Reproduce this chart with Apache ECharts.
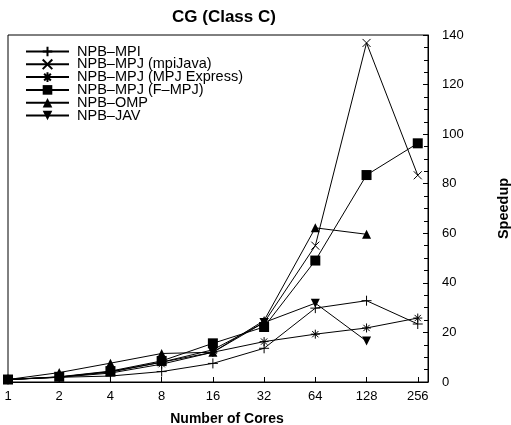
<!DOCTYPE html>
<html>
<head>
<meta charset="utf-8">
<script src="https://cdn.jsdelivr.net/npm/echarts@6/dist/echarts.min.js"></script>
<style>
  html, body { margin: 0; padding: 0; background: #fff; }
  #chart { width: 511px; height: 425px; }
</style>
</head>
<body>
<div id="chart"></div>
<script>
// cores on the x axis (drawn at equal spacing, log2 scale)
var cores = ['1', '2', '4', '8', '16', '32', '64', '128', '256'];
// speedup values
var npbMpi = [1, 1.9, 2.4, 4.2, 7.5, 13.6, 29.8, 32.8, 23.4];
var npbMpiJava = [1, 2.0, 4.2, 8.0, 13.0, 24.0, 55.0, 136.8, 83.4];
var npbMpjExpress = [1, 1.9, 3.6, 7.2, 12.0, 16.3, 19.3, 21.8, 25.8];
var npbFmpj = [1, 2.1, 4.4, 8.5, 15.6, 22.2, 49.0, 83.5, 96.3];
var npbOmp = [1, 3.8, 7.6, 11.5, 12.0, 24.8, 62.2, 59.6];
var npbJav = [1, 2.0, 4.0, 8.0, 12.0, 24.0, 31.8, 16.5];
var yTicks = [0, 20, 40, 60, 80, 100, 120, 140];

var FONT = 'Liberation Sans';

//gnuplot style point shapes
var PLUS = 'path://M0,5L10,5M5,0L5,10';
var CROSS = 'path://M0,0L10,10M10,0L0,10';
var STAR = 'path://M0,5L10,5M5,0L5,10M1.5,1.5L8.5,8.5M8.5,1.5L1.5,8.5';

function toPoints(arr) {
  var out = [];
  for (var i = 0; i < arr.length; i++) {
    out.push([i, arr[i]]);
  }
  return out;
}

function makeSeries(name, arr, symbol, size, stroked, rotate) {
  return {
    name: name,
    type: 'line',
    data: toPoints(arr),
    symbol: symbol,
    symbolSize: size,
    symbolRotate: rotate || 0,
    showAllSymbol: true,
    animation: false,
    lineStyle: { color: '#000', width: 1 },
    itemStyle: stroked
      ? { color: '#000', borderColor: '#000', borderWidth: 1 }
      : { color: '#000', borderWidth: 0 }
  };
}

var chart = echarts.init(document.getElementById('chart'), null, { renderer: 'canvas' });

var option = {
  backgroundColor: '#fff',
  animation: false,
  textStyle: { fontFamily: FONT, color: '#000' },
  title: {
    text: 'CG (Class C)',
    left: 167,
    top: 4,
    textStyle: { fontFamily: FONT, fontSize: 17, fontWeight: 'bold', color: '#000' }
  },
  legend: {
    orient: 'vertical',
    left: 25,
    top: 44,
    padding: 0,
    itemWidth: 43,
    itemHeight: 12,
    itemGap: -2.2,
    textStyle: { fontFamily: FONT, fontSize: 14.5, color: '#000', padding: [0, 0, 0, 3] },
    data: ['NPB\u2013MPI', 'NPB\u2013MPJ (mpiJava)', 'NPB\u2013MPJ (MPJ Express)',
           'NPB\u2013MPJ (F\u2013MPJ)', 'NPB\u2013OMP', 'NPB\u2013JAV']
  },
  grid: {
    left: 8,
    right: 83,
    top: 35,
    bottom: 43,
    show: true,
    borderColor: '#000',
    borderWidth: 1,
    containLabel: false,
    outerBoundsMode: 'none'
  },
  xAxis: {
    type: 'value',
    min: 0,
    max: 8.2,
    interval: 1,
    name: 'Number of Cores',
    nameLocation: 'middle',
    nameGap: 30,
    nameTextStyle: { fontFamily: FONT, fontSize: 14, fontWeight: 'bold', color: '#000', padding: [0, 0, 0, 18] },
    axisLine: { show: true, onZero: false, lineStyle: { color: '#000', width: 1 } },
    axisTick: { show: true, inside: true, length: 5, lineStyle: { color: '#000' } },
    splitLine: { show: false },
    axisLabel: {
      fontFamily: FONT,
      fontSize: 13,
      color: '#000',
      margin: 8,
      showMaxLabel: false,
      formatter: function (v) {
        return cores[Math.round(v)] || '';
      }
    }
  },
  yAxis: {
    type: 'value',
    position: 'right',
    min: 0,
    max: 140,
    interval: 20,
    name: 'Speedup',
    nameLocation: 'middle',
    nameRotate: 90,
    nameGap: 68,
    nameTextStyle: { fontFamily: FONT, fontSize: 14.5, fontWeight: 'bold', color: '#000' },
    axisLine: { show: true, onZero: false, lineStyle: { color: '#000', width: 1 } },
    axisTick: { show: true, inside: true, length: 5, lineStyle: { color: '#000' } },
    minorTick: { show: true, splitNumber: 4, length: 4, lineStyle: { color: '#000' } },
    splitLine: { show: false },
    axisLabel: {
      fontFamily: FONT,
      fontSize: 13,
      color: '#000',
      margin: 14,
      formatter: function (v) {
        return yTicks.indexOf(v) >= 0 ? String(v) : '';
      }
    }
  },
  series: [
    makeSeries('NPB\u2013MPI', npbMpi, PLUS, 10, true),
    makeSeries('NPB\u2013MPJ (mpiJava)', npbMpiJava, CROSS, 8, true),
    makeSeries('NPB\u2013MPJ (MPJ Express)', npbMpjExpress, STAR, 9, true),
    makeSeries('NPB\u2013MPJ (F\u2013MPJ)', npbFmpj, 'rect', 10, false),
    makeSeries('NPB\u2013OMP', npbOmp, 'triangle', 9, false),
    makeSeries('NPB\u2013JAV', npbJav, 'triangle', 9, false, 180)
  ]
};

chart.setOption(option);
</script>
</body>
</html>
